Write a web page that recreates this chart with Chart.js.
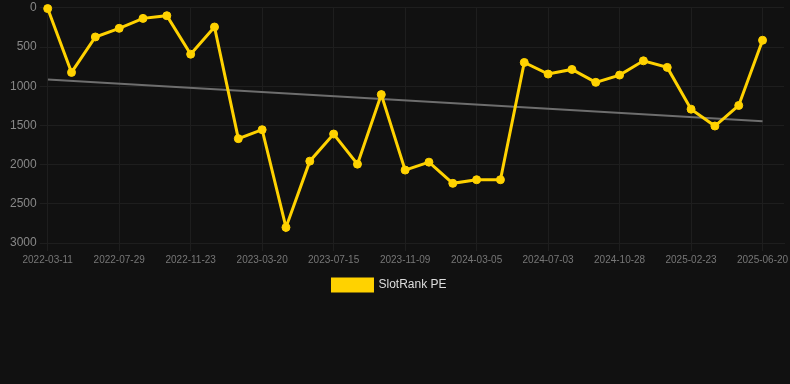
<!DOCTYPE html>
<html>
<head>
<meta charset="utf-8">
<script src="https://cdn.jsdelivr.net/npm/chart.js@4"></script>
<style>
  html, body { margin: 0; padding: 0; background: #111111; }
  #wrap { width: 790px; height: 301px; }
</style>
</head>
<body>
<div id="wrap"><canvas id="chart"></canvas></div>
<script>
// dates of each sample (only every 3rd is shown on the axis)
const dates = [
  "2022-03-11", "2022-04-26", "2022-06-12", "2022-07-29", "2022-09-06", "2022-10-15",
  "2022-11-23", "2023-01-01", "2023-02-09", "2023-03-20", "2023-04-28", "2023-06-06",
  "2023-07-15", "2023-08-23", "2023-10-01", "2023-11-09", "2023-12-18", "2024-01-26",
  "2024-03-05", "2024-04-14", "2024-05-24", "2024-07-03", "2024-08-10", "2024-09-19",
  "2024-10-28", "2024-12-06", "2025-01-14", "2025-02-23", "2025-04-03", "2025-05-12",
  "2025-06-20"
];

const rankPE = [
  10, 824, 372, 262, 135, 101, 592, 245, 1669, 1555, 2801, 1956, 1610, 1994, 1107,
  2070, 1969, 2239, 2193, 2193, 697, 845, 786, 951, 858, 676, 760, 1293, 1508, 1246, 414
];

// trend line end points (first and last sample)
const trendStart = 915;
const trendEnd = 1448;

const yTicks = [0, 500, 1000, 1500, 2000, 2500, 3000];

const yellow = "#FFD200";

const mainPoints = rankPE.map((v, i) => ({ x: i, y: v }));
const trendPoints = [
  { x: 0, y: trendStart },
  { x: dates.length - 1, y: trendEnd }
];

// nudge the legend a bit left, like the original
const legendShift = {
  id: "legendShift",
  afterLayout(chart) {
    if (chart.legend) {
      chart.legend.left -= 9;
      chart.legend.right -= 9;
    }
  },
};

new Chart(document.getElementById("chart"), {
  type: "line",
  data: {
    datasets: [
      {
        label: "SlotRank PE",
        data: mainPoints,
        borderColor: yellow,
        backgroundColor: yellow,
        borderWidth: 3,
        pointRadius: 4,
        pointBorderWidth: 1,
        pointHoverRadius: 5,
        pointBackgroundColor: yellow,
        pointBorderColor: yellow,
        tension: 0,
        clip: false,
      },
      {
        label: "trend",
        data: trendPoints,
        borderColor: "#6e6e6e",
        borderWidth: 2,
        pointRadius: 0,
        fill: false,
      },
    ],
  },
  plugins: [legendShift],
  options: {
    responsive: true,
    maintainAspectRatio: false,
    animation: false,
    layout: { padding: { left: 7, right: 0, top: 0, bottom: 0 } },
    plugins: {
      legend: {
        position: "bottom",
        labels: {
          color: "#dddddd",
          font: { family: "Liberation Sans, Arial", size: 12 },
          boxWidth: 40,
          boxHeight: 12,
          filter: (item) => item.text !== "trend",
        },
      },
      tooltip: { enabled: false },
    },
    scales: {
      x: {
        type: "linear",
        min: 0,
        max: 30.9,
        afterBuildTicks: (axis) => {
          axis.ticks = dates
            .map((_, i) => i)
            .filter((i) => i % 3 === 0)
            .map((i) => ({ value: i }));
        },
        afterFit: (axis) => {
          axis.paddingRight = 0;
        },
        ticks: {
          color: "#777777",
          font: { family: "Liberation Sans, Arial", size: 10 },
          maxRotation: 0,
          autoSkip: false,
          callback: (value) => dates[value] || "",
        },
        grid: { color: "#1e1e1e" },
        border: { color: "#1e1e1e" },
      },
      y: {
        reverse: true,
        min: 0,
        max: 3000,
        afterBuildTicks: (axis) => {
          axis.ticks = yTicks.map((v) => ({ value: v }));
        },
        ticks: {
          color: "#888888",
          font: { family: "Liberation Sans, Arial", size: 12, lineHeight: 0.8 },
          callback: (value) => String(value),
        },
        grid: { color: "#1e1e1e" },
        border: { color: "#1e1e1e" },
      },
    },
  },
});
</script>
</body>
</html>
